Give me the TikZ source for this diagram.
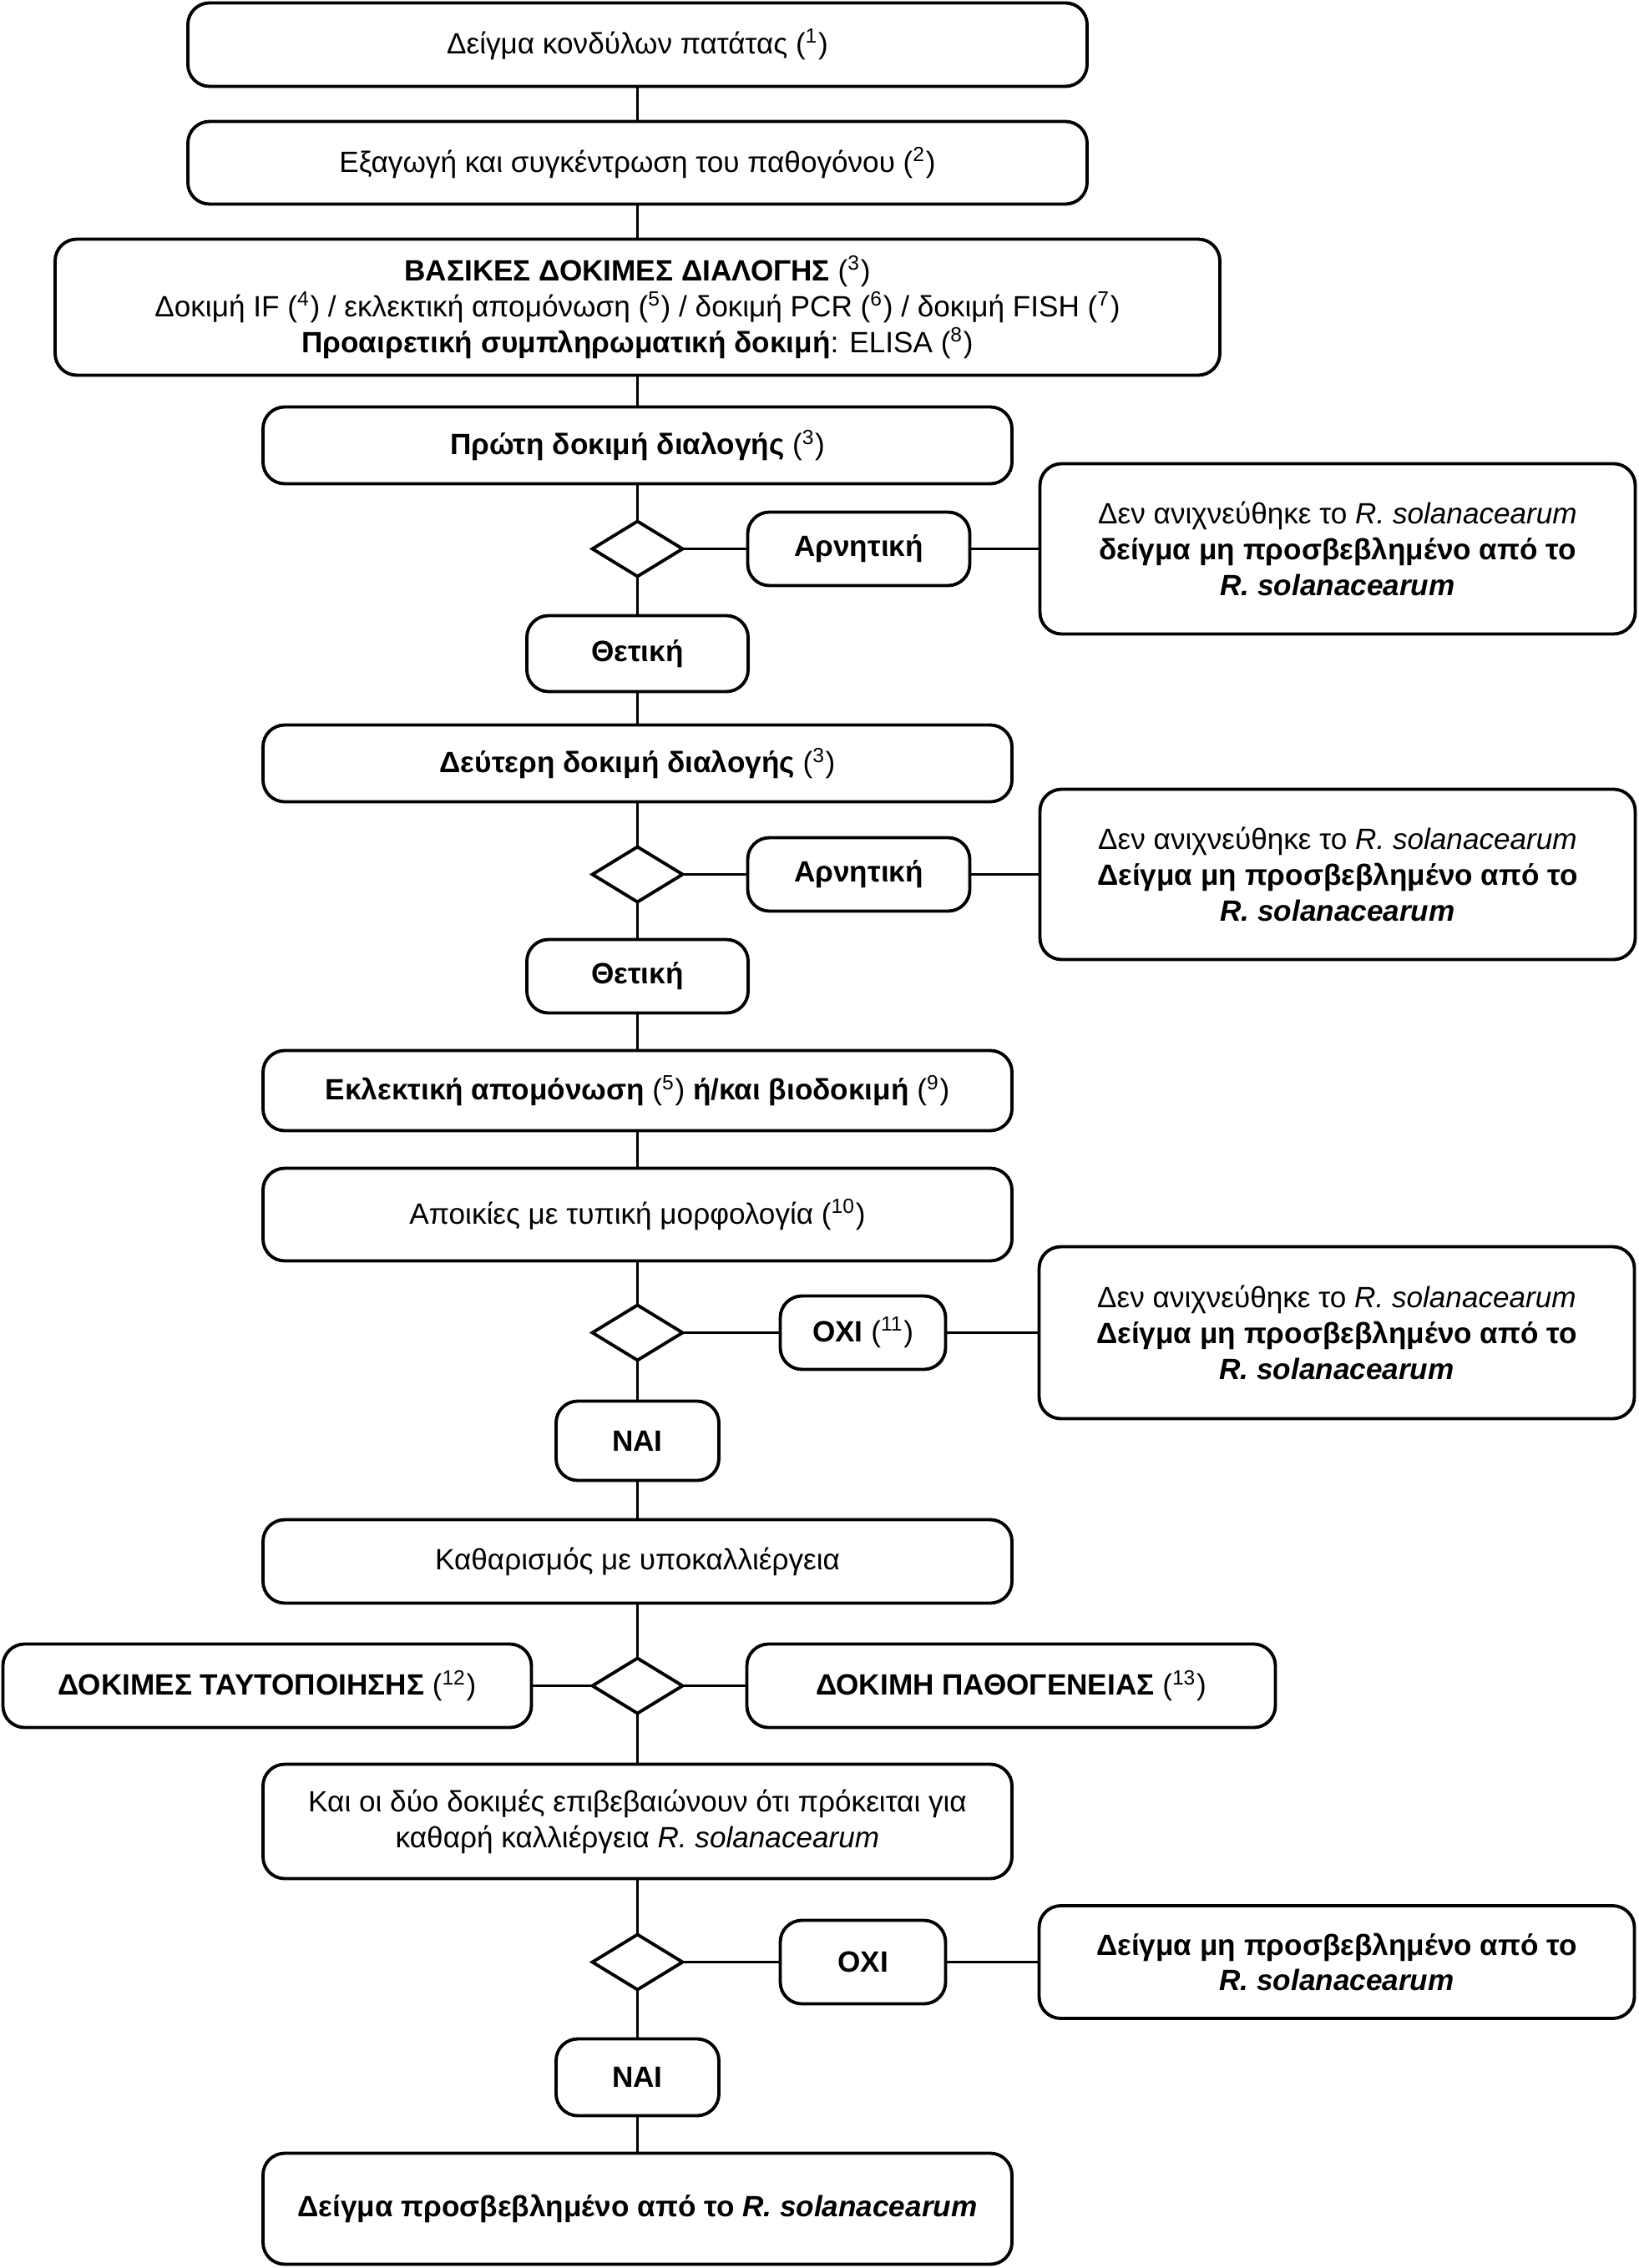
\documentclass[tikz,border=0pt]{standalone}
\usepackage{fontspec}
\setmainfont{Liberation Sans}
\usetikzlibrary{positioning}
\usetikzlibrary{shapes.geometric}

\begin{document}
\begin{tikzpicture}
	\tikzstyle{every node}=[draw,rounded corners=0.26cm,line width=1.1pt,align=center,inner sep=0pt,outer sep=0pt,font=\fontsize{10}{12.2}\selectfont]
	\tikzstyle{bigbox}=[minimum width=10.77cm,minimum height=1.0cm]
	\tikzstyle{midbox}=[minimum width=8.97cm,minimum height=0.92cm]
	\tikzstyle{resbox}=[minimum width=7.13cm,minimum height=2.04cm]
	\tikzstyle{lblbox}=[minimum width=2.66cm,minimum height=0.88cm,font=\fontsize{10}{12.2}\selectfont\bfseries]
	\tikzstyle{romb}=[diamond,sharp corners,minimum width=1.08cm,minimum height=0.66cm]

	\useasboundingbox (0,0) rectangle (19.62,-27.17);

	\node (kond) [bigbox] at (7.635,-0.535) {Δείγμα κονδύλων πατάτας (\textsuperscript{1})};
	\node (exag) [bigbox,minimum height=0.99cm,below=0.42cm of kond] {Εξαγωγή και συγκέντρωση του παθογόνου (\textsuperscript{2})};
	\node (vasik) [minimum width=13.95cm,minimum height=1.63cm,below=0.42cm of exag] {\textbf{ΒΑΣΙΚΕΣ ΔΟΚΙΜΕΣ ΔΙΑΛΟΓΗΣ} (\textsuperscript{3})\\
		Δοκιμή IF (\textsuperscript{4}) / εκλεκτική απομόνωση (\textsuperscript{5}) / δοκιμή PCR (\textsuperscript{6}) / δοκιμή FISH (\textsuperscript{7})\\
		\textbf{Προαιρετική συμπληρωματική δοκιμή}: ELISA (\textsuperscript{8})};
	\node (proti) [midbox,below=0.38cm of vasik] {\textbf{Πρώτη δοκιμή διαλογής} (\textsuperscript{3})};
	\node (rombA) [romb,below=0.45cm of proti] {};
	\node (arnA) [lblbox,right=0.78cm of rombA] {Αρνητική};
	\node (rezA) [resbox,right=0.84cm of arnA] {Δεν ανιχνεύθηκε το \textit{R. solanacearum}\\
		\textbf{δείγμα μη προσβεβλημένο από το}\\ \textbf{\textit{R. solanacearum}}};
	\node (thetA) [lblbox,minimum width=2.65cm,minimum height=0.91cm,below=0.47cm of rombA] {Θετική};

	\node (defteri) [midbox,below=0.40cm of thetA] {\textbf{Δεύτερη δοκιμή διαλογής} (\textsuperscript{3})};
	\node (rombB) [romb,below=0.54cm of defteri] {};
	\node (arnB) [lblbox,right=0.78cm of rombB] {Αρνητική};
	\node (rezB) [resbox,right=0.84cm of arnB] {Δεν ανιχνεύθηκε το \textit{R. solanacearum}\\
		\textbf{Δείγμα μη προσβεβλημένο από το}\\ \textbf{\textit{R. solanacearum}}};
	\node (thetB) [lblbox,minimum width=2.65cm,below=0.45cm of rombB] {Θετική};

	\node (eklekt) [midbox,minimum height=0.96cm,below=0.45cm of thetB] {\textbf{Εκλεκτική απομόνωση} (\textsuperscript{5}) \textbf{ή/και βιοδοκιμή} (\textsuperscript{9})};
	\node (apoik) [midbox,minimum height=1.11cm,below=0.45cm of eklekt] {Αποικίες με τυπική μορφολογία (\textsuperscript{10})};
	\node (rombC) [romb,below=0.53cm of apoik] {};
	\node (oxiA) [lblbox,minimum width=1.98cm,right=1.17cm of rombC] {ΟΧΙ \mdseries(\textsuperscript{11})};
	\node (rezC) [resbox,minimum height=2.06cm,right=1.12cm of oxiA] {Δεν ανιχνεύθηκε το \textit{R. solanacearum}\\
		\textbf{Δείγμα μη προσβεβλημένο από το}\\ \textbf{\textit{R. solanacearum}}};
	\node (naiA) [lblbox,minimum width=1.95cm,minimum height=0.95cm,below=0.49cm of rombC] {ΝΑΙ};

	\node (kathar) [midbox,minimum height=1.0cm,below=0.47cm of naiA] {Καθαρισμός με υποκαλλιέργεια};
	\node (rombD) [romb,below=0.66cm of kathar] {};
	\node (taut) [minimum width=6.33cm,minimum height=1.0cm,left=0.73cm of rombD] {\textbf{ΔΟΚΙΜΕΣ ΤΑΥΤΟΠΟΙΗΣΗΣ} (\textsuperscript{12})};
	\node (pathog) [minimum width=6.33cm,minimum height=1.0cm,right=0.77cm of rombD] {\textbf{ΔΟΚΙΜΗ ΠΑΘΟΓΕΝΕΙΑΣ} (\textsuperscript{13})};
	\node (kaioi) [midbox,minimum height=1.37cm,below=0.61cm of rombD] {Και οι δύο δοκιμές επιβεβαιώνουν ότι πρόκειται για\\ καθαρή καλλιέργεια \textit{R. solanacearum}};
	\node (rombE) [romb,below=0.67cm of kaioi] {};
	\node (oxiB) [lblbox,minimum width=1.98cm,minimum height=1.0cm,right=1.17cm of rombE] {ΟΧΙ};
	\node (rezD) [resbox,minimum height=1.35cm,right=1.12cm of oxiB] {\textbf{Δείγμα μη προσβεβλημένο από το}\\ \textbf{\textit{R. solanacearum}}};
	\node (naiB) [lblbox,minimum width=1.95cm,minimum height=0.92cm,below=0.59cm of rombE] {ΝΑΙ};
	\node (telos) [midbox,minimum height=1.33cm,below=0.45cm of naiB] {\textbf{Δείγμα προσβεβλημένο από το \textit{R. solanacearum}}};

	\path[line width=0.8pt]
	(kond) edge (exag)
	(exag) edge (vasik)
	(vasik) edge (proti)
	(proti) edge (rombA)
	(rombA) edge (thetA)
	(rombA) edge (arnA)
	(arnA) edge (rezA)
	(thetA) edge (defteri)
	(defteri) edge (rombB)
	(rombB) edge (thetB)
	(rombB) edge (arnB)
	(arnB) edge (rezB)
	(thetB) edge (eklekt)
	(eklekt) edge (apoik)
	(apoik) edge (rombC)
	(rombC) edge (oxiA)
	(oxiA) edge (rezC)
	(rombC) edge (naiA)
	(naiA) edge (kathar)
	(kathar) edge (rombD)
	(rombD) edge (taut)
	(rombD) edge (pathog)
	(rombD) edge (kaioi)
	(kaioi) edge (rombE)
	(rombE) edge (oxiB)
	(oxiB) edge (rezD)
	(rombE) edge (naiB)
	(naiB) edge (telos);

\end{tikzpicture}
\end{document}
